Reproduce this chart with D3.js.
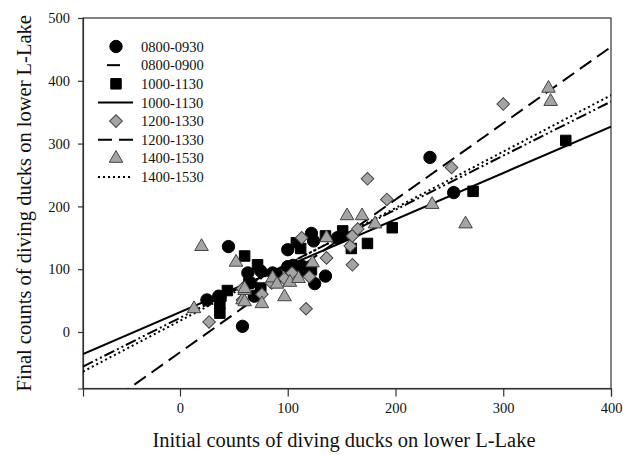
<!DOCTYPE html>
<html><head><meta charset="utf-8">
<script src="https://cdn.jsdelivr.net/npm/d3@7/dist/d3.min.js"></script>
<style>body{margin:0;background:#fff;} svg{display:block;} svg text{font-family:'Liberation Serif','Times New Roman',serif !important;}</style>
</head><body>
<script>
// ---- data ----
const circles0800 = [[25,51],[36,57],[45,136],[58,9],[63,94],[65,78],[69,57],[75,97],[86,94],[88,91],[100,131],[100,104],[105,106],[112,102],[114,104],[122,157],[124,145],[125,77],[135,89],[146,150],[150,153],[232,278],[254,222]];
const squares1000 = [[37,30],[37,45],[38,57],[44,66],[60,121],[64,78],[72,107],[75,70],[90,90],[108,142],[111,97],[112,133],[117,101],[122,99],[135,153],[151,161],[159,133],[174,141],[197,166],[272,224],[358,305]];
const diamonds1200 = [[27,16],[58,51],[58,69],[76,60],[85,78],[97,85],[104,94],[113,150],[117,37],[120,88],[136,118],[158,137],[160,107],[160,153],[165,164],[174,244],[192,211],[252,262],[300,363]];
const triangles1400 = [[13,37],[20,136],[52,111],[58,51],[60,48],[60,66],[60,69],[76,45],[86,86],[90,76],[97,56],[102,79],[110,85],[123,110],[136,150],[155,185],[169,185],[181,172],[234,203],[265,172],[342,388],[344,367]];
// regression lines: [intercept, slope]
const fit0800 = [22.5, 0.861];
const fit1000 = [31.5, 0.739];
const fit1200 = [-32.4, 1.216];
const fit1400 = [17.8, 0.898];
const legendLabels = ["0800-0930","0800-0900","1000-1130","1000-1130","1200-1330","1200-1330","1400-1530","1400-1530"];
const xTicks = [0,100,200,300,400];
const yTicks = [0,100,200,300,400,500];
const xTitle = "Initial counts of diving ducks on lower L-Lake";
const yTitle = "Final counts of diving ducks on lower L-Lake";

// ---- layout ----
const W = 633, H = 455;
const L = 83, R = 611, T = 18, B = 388.5;
const x = d3.scaleLinear().domain([-90, 400]).range([L, R]);
const y = d3.scaleLinear().domain([-90, 500]).range([B, T]);
const font = "'Liberation Serif','Times New Roman',serif";
const gray = "#a4a4a4";

const svg = d3.select("body").append("svg").attr("width", W).attr("height", H);
svg.append("defs").append("clipPath").attr("id","clip")
  .append("rect").attr("x",L).attr("y",T).attr("width",R-L).attr("height",B-T);

// frame
svg.append("rect").attr("x",L).attr("y",T).attr("width",R-L).attr("height",B-T)
  .attr("fill","none").attr("stroke","#333").attr("stroke-width",1.2);

// axes
const xAxis = svg.append("g").attr("transform",`translate(0,${B})`)
  .call(d3.axisBottom(x).tickValues(xTicks).tickSize(8).tickPadding(6));
const yAxis = svg.append("g").attr("transform",`translate(${L},0)`)
  .call(d3.axisLeft(y).tickValues(yTicks).tickSize(5).tickPadding(8));
[xAxis,yAxis].forEach(a=>{
  a.attr("font-family",font).attr("font-size",14.5);
  a.select(".domain").attr("stroke","#333").attr("stroke-width",1.2);
  a.selectAll(".tick line").attr("stroke","#333").attr("stroke-width",1.2);
  a.selectAll("text").attr("font-family",font).attr("font-size",14.5).attr("fill","#111");
});

// titles
svg.append("text").attr("x",(L+R)/2 - 3).attr("y",447).attr("text-anchor","middle")
  .attr("font-family",font).attr("font-size",20.5).attr("fill","#111").text(xTitle);
svg.append("text").attr("transform",`translate(31,${(T+B)/2}) rotate(-90)`).attr("text-anchor","middle")
  .attr("font-family",font).attr("font-size",20.5).attr("fill","#111").text(yTitle);

// regression lines
const plot = svg.append("g").attr("clip-path","url(#clip)");
const lines = [
  {fit: fit1000, dash: null},
  {fit: fit0800, dash: "11,3,2,3,2,3"},
  {fit: fit1400, dash: "2,3"},
  {fit: fit1200, dash: "14,7"}
];
lines.forEach(l=>{
  const [b,m] = l.fit;
  const x0 = -90, x1 = 400;
  plot.append("line").attr("x1",x(x0)).attr("y1",y(b+m*x0)).attr("x2",x(x1)).attr("y2",y(b+m*x1))
    .attr("stroke","#000").attr("stroke-width",2).attr("stroke-dasharray",l.dash);
});

// markers
const sym = {
  circle: d3.symbol().type(d3.symbolCircle).size(120),
  square: d3.symbol().type(d3.symbolSquare).size(110),
  diamond: d3.symbol().type(d3.symbolSquare).size(80),
  triangle: d3.symbol().type(d3.symbolTriangle).size(80)
};
function drawPts(data, kind){
  const g = plot.append("g");
  g.selectAll("path").data(data).join("path")
    .attr("transform",d=>`translate(${x(d[0])},${y(d[1])})` + (kind==="diamond"?" rotate(45)":""))
    .attr("d", sym[kind]())
    .attr("fill", (kind==="circle"||kind==="square")?"#000":gray)
    .attr("stroke", (kind==="circle"||kind==="square")?"#000":"#444")
    .attr("stroke-width", 1);
}
drawPts(circles0800,"circle");
drawPts(squares1000,"square");
drawPts(diamonds1200,"diamond");
drawPts(triangles1400,"triangle");

// legend
const lg = svg.append("g");
const rowY = i => 46.5 + i*18.65;
const kinds = ["circle",null,"square",null,"diamond",null,"triangle",null];
const legDash = [null,"line0800",null,"solid",null,"dash",null,"dot"];
legendLabels.forEach((lab,i)=>{
  const yy = rowY(i);
  if (kinds[i]) {
    const k = kinds[i];
    lg.append("path").attr("transform",`translate(116,${yy})`+(k==="diamond"?" rotate(45)":""))
      .attr("d", sym[k]())
      .attr("fill", (k==="circle"||k==="square")?"#000":gray)
      .attr("stroke", (k==="circle"||k==="square")?"#000":"#444").attr("stroke-width",1);
  } else {
    const t = legDash[i];
    let x1=98, x2=133, dash=null;
    if (t==="line0800"){x1=107;x2=120;}
    if (t==="dash"){dash="14,7";}
    if (t==="dot"){dash="2,3";}
    lg.append("line").attr("x1",x1).attr("x2",x2).attr("y1",yy).attr("y2",yy)
      .attr("stroke","#000").attr("stroke-width",2).attr("stroke-dasharray",dash);
  }
  lg.append("text").attr("x",141).attr("y",yy).attr("dy","0.35em")
    .attr("font-family",font).attr("font-size",14.5).attr("fill","#111").text(lab);
});
</script>
</body></html>
